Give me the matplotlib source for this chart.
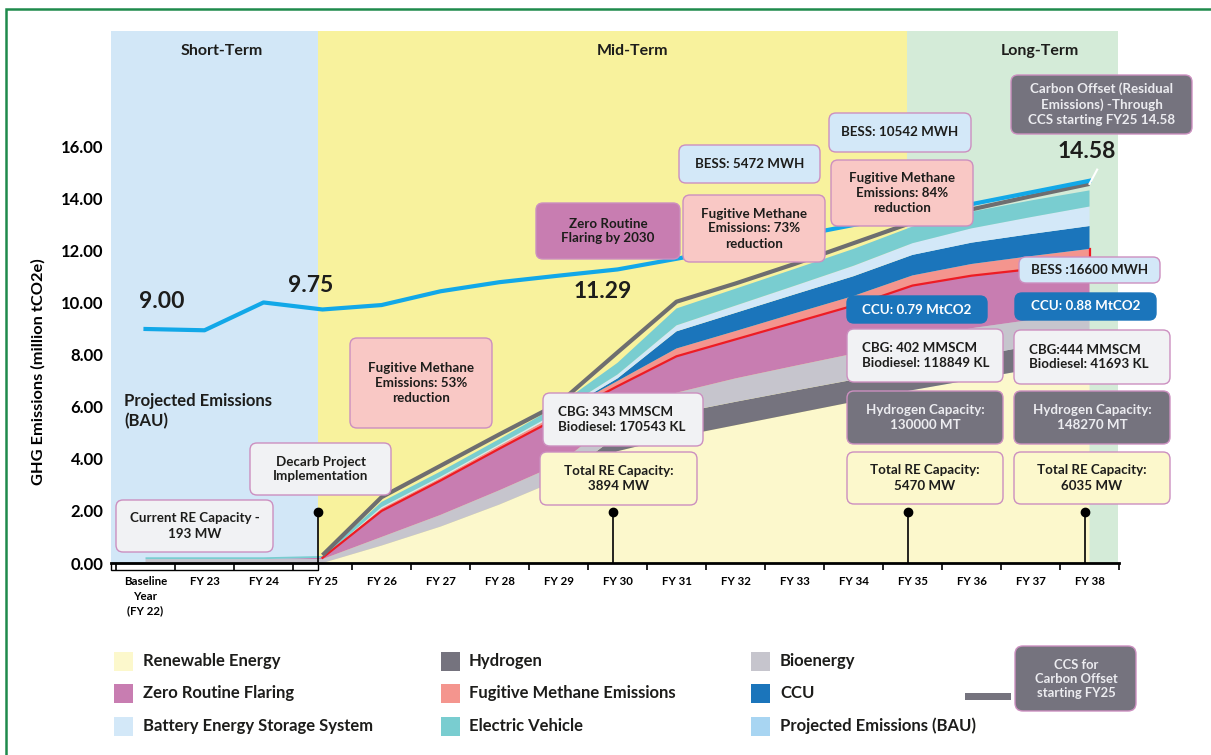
import numpy as np
import matplotlib.pyplot as plt
from matplotlib.patches import FancyBboxPatch, Rectangle

plt.rcParams["font.family"] = ["Lato", "DejaVu Sans"]
plt.rcParams["font.weight"] = "bold"

# ---------------------------------------------------------------------------
# Data (million tCO2e)
# ---------------------------------------------------------------------------
years = ["Baseline\nYear\n(FY 22)", "FY 23", "FY 24", "FY 25", "FY 26", "FY 27",
         "FY 28", "FY 29", "FY 30", "FY 31", "FY 32", "FY 33", "FY 34",
         "FY 35", "FY 36", "FY 37", "FY 38"]

bau = [9.00, 8.95, 10.02, 9.75, 9.92, 10.45, 10.80, 11.05, 11.29, 11.70,
       12.13, 12.56, 13.00, 13.40, 13.80, 14.25, 14.70]

ccs_line = [np.nan, np.nan, np.nan, 0.30, 2.53, 3.74, 4.95, 6.13, 8.10,
            10.05, 10.75, 11.50, 12.30, 13.10, 13.60, 14.10, 14.58]

renewable = [0, 0, 0, 0, 0.67, 1.40, 2.25, 3.20, 4.30, 4.85, 5.30, 5.75,
             6.20, 6.65, 7.05, 7.45, 7.75]
hydrogen = [0, 0, 0, 0, 0, 0, 0, 0, 0.60, 0.90, 0.90, 0.88, 0.85, 0.87,
            0.88, 0.90, 0.90]
bioenergy = [0.15, 0.15, 0.15, 0.15, 0.33, 0.45, 0.55, 0.60, 0.70, 0.80,
             0.90, 0.95, 1.00, 1.05, 1.10, 1.00, 0.85]
zero_flaring = [0, 0, 0, 0.05, 1.00, 1.32, 1.60, 1.80, 1.20, 1.40, 1.50,
                1.67, 1.85, 2.10, 2.02, 1.95, 2.00]
fugitive = [0, 0, 0, 0, 0.10, 0.10, 0.12, 0.15, 0.20, 0.30, 0.32, 0.35,
            0.37, 0.39, 0.45, 0.50, 0.58]
ccu = [0, 0, 0, 0, 0, 0, 0, 0, 0.10, 0.66, 0.70, 0.73, 0.76, 0.79, 0.82,
       0.85, 0.88]
bess = [0, 0, 0, 0, 0.05, 0.05, 0.05, 0.07, 0.15, 0.23, 0.28, 0.33, 0.40,
        0.45, 0.55, 0.65, 0.75]
ev = [0.07, 0.07, 0.07, 0.07, 0.20, 0.20, 0.20, 0.25, 0.45, 0.65, 0.65,
      0.65, 0.65, 0.64, 0.64, 0.64, 0.62]

milestones = [3, 8, 13, 16]

# colours
c_re = "#fcf8cc"
c_h2 = "#75737e"
c_bio = "#c6c5cd"
c_zrf = "#c87db1"
c_fm = "#f4958e"
c_ccu = "#1b75bb"
c_bess = "#d3e8f8"
c_ev = "#79cdd0"
c_bau = "#a8d5f2"
c_light = "#f1f2f4"
c_pinkbox = "#f9c8c5"
c_edge = "#cc8fc0"
c_dark = "#1d1d1b"

W, H = 1211, 755
fig = plt.figure(figsize=(W / 100, H / 100), dpi=100)
ax = fig.add_axes([111 / W, (H - 563) / H, 1008 / W, 532 / H])

x = np.arange(len(years))
x_left, x_right = -0.585, 16.5

# term bands
ax.axvspan(x_left, 2.924, color="#d2e7f7", lw=0, zorder=0)
ax.axvspan(2.924, 12.907, color="#f8f29d", lw=0, zorder=0)
ax.axvspan(12.907, 16.48, color="#d4ebd8", lw=0, zorder=0)

layers = [renewable, hydrogen, bioenergy, zero_flaring, fugitive, ccu, bess, ev]
colors = [c_re, c_h2, c_bio, c_zrf, c_fm, c_ccu, c_bess, c_ev]
ax.stackplot(x, *layers, colors=colors, linewidth=0, zorder=2)

# fugitive methane outline (top of zero routine flaring)
cum = np.cumsum(np.array(layers), axis=0)
zrf_top = cum[3]
fm_top = cum[4]
ax.plot(x[3:], zrf_top[3:], color="#ed1c24", lw=1.6, zorder=3)
ax.plot([x[-1], x[-1]], [zrf_top[-1], fm_top[-1]], color="#ed1c24", lw=1.6, zorder=3)

# CCS carbon offset line and BAU projection
ax.plot(x, ccs_line, color="#6e6e70", lw=3.0, zorder=4, solid_capstyle="butt")
ax.plot(x, bau, color="#12a8e8", lw=3.0, zorder=5)
ax.plot([x[-1], x[-1] + 0.13], [ccs_line[-1], ccs_line[-1] + 0.55],
        color="white", lw=1.5, zorder=6, clip_on=False)

# milestone lollipops
mx = np.array(milestones) - 0.08
ax.vlines(mx, 0, 1.95, color="black", lw=1.2, zorder=6)
ax.plot(mx, [1.95] * len(mx), "o", color="black", ms=6, zorder=7)

# axes styling
ax.set_xlim(x_left, x_right)
ax.set_ylim(0, 20.46)
for side in ["left", "right", "top"]:
    ax.spines[side].set_visible(False)
ax.spines["bottom"].set_linewidth(2)
ax.spines["bottom"].set_zorder(8)

ax.set_xticks(np.arange(-0.5, 17, 1))
ax.set_xticklabels([])
ax.set_xticks(x, minor=True)
ax.set_xticklabels(years, minor=True, fontsize=8.3, fontweight="bold",
                   linespacing=1.4)
ax.tick_params(axis="x", which="major", length=5, width=1.2, color="black")
ax.tick_params(axis="x", which="minor", length=0, pad=9.5)

yt = np.arange(0, 17, 2)
ax.set_yticks(yt)
ax.set_yticklabels([f"{v:.2f}" for v in yt], fontsize=12, fontweight="bold")
ax.tick_params(axis="y", length=0, pad=5.5)

ax.add_patch(Rectangle((x_left, -0.27), 2.924 - x_left, 0.27,
                       facecolor="white", edgecolor="black", lw=1,
                       clip_on=False, zorder=1))


def px(xp, yp):
    return xp / 100, (H - yp) / 100


def ftext(xp, yp, s, **kw):
    fig.text(*px(xp, yp), s, transform=fig.dpi_scale_trans, **kw)


fig.text(*px(38, 372), "GHG Emissions (million tCO2e)", rotation=90,
         ha="center", va="center", fontsize=11.8, fontweight="bold",
         transform=fig.dpi_scale_trans)

# term headings
ftext(222, 51, "Short-Term", ha="center", va="center", fontsize=11.5, color=c_dark)
ftext(633, 51, "Mid-Term", ha="center", va="center", fontsize=11.5, color=c_dark)
ftext(1040, 51, "Long-Term", ha="center", va="center", fontsize=11.5, color=c_dark)

# headline values
ftext(162, 302, "9.00", ha="center", va="center", fontsize=16.5, color=c_dark)
ftext(311, 286, "9.75", ha="center", va="center", fontsize=16.5, color=c_dark)
ftext(603, 291, "11.29", ha="center", va="center", fontsize=16.5, color=c_dark)
ftext(1087, 152, "14.58", ha="center", va="center", fontsize=16.5, color=c_dark)

ftext(124, 411, "Projected Emissions\n(BAU)", ha="left", va="center",
      fontsize=12, color=c_dark, linespacing=1.25)

# callout boxes: left, top, right, bottom (pixels), text, face, text colour, align
boxes = [
    (116, 500, 273, 552, "Current RE Capacity -\n193 MW", c_light, c_dark, "center"),
    (250, 443, 391, 495, "Decarb Project\nImplementation", c_light, c_dark, "center"),
    (350, 338, 492, 428, "Fugitive Methane\nEmissions: 53%\nreduction", c_pinkbox, c_dark, "center"),
    (536, 203, 680, 259, "Zero Routine\nFlaring by 2030", c_zrf, c_dark, "center"),
    (679, 145, 820, 183, "BESS: 5472 MWH", c_bess, c_dark, "center"),
    (683, 195, 825, 262, "Fugitive Methane\nEmissions: 73%\nreduction", c_pinkbox, c_dark, "center"),
    (829, 113, 971, 152, "BESS: 10542 MWH", c_bess, c_dark, "center"),
    (831, 160, 973, 226, "Fugitive Methane\nEmissions: 84%\nreduction", c_pinkbox, c_dark, "center"),
    (1011, 75, 1192, 134, "Carbon Offset (Residual\nEmissions) -Through\nCCS starting FY25 14.58", c_h2, "#ececf0", "center"),
    (1019, 257, 1160, 283, "BESS :16600 MWH", c_bess, c_dark, "center"),
    (847, 296, 987, 323, "CCU: 0.79 MtCO2", c_ccu, "white", "center"),
    (1015, 293, 1156, 320, "CCU: 0.88 MtCO2", c_ccu, "white", "center"),
    (847, 329, 1003, 382, "CBG: 402 MMSCM\nBiodiesel: 118849 KL", c_light, c_dark, "left"),
    (1014, 330, 1170, 384, "CBG:444 MMSCM\nBiodiesel: 41693 KL", c_light, c_dark, "left"),
    (847, 391, 1003, 444, "Hydrogen Capacity:\n130000 MT", c_h2, "#ececf0", "center"),
    (1014, 391, 1170, 444, "Hydrogen Capacity:\n148270 MT", c_h2, "#ececf0", "center"),
    (847, 452, 1003, 504, "Total RE Capacity:\n5470 MW", c_re, c_dark, "center"),
    (1014, 452, 1170, 504, "Total RE Capacity:\n6035 MW", c_re, c_dark, "center"),
    (543, 393, 703, 446, "CBG: 343 MMSCM\nBiodiesel: 170543 KL", c_light, c_dark, "left"),
    (540, 452, 697, 505, "Total RE Capacity:\n3894 MW", c_re, c_dark, "center"),
]

for x0, y0, x1, y1, label, face, tcol, align in boxes:
    edge = face if face == c_ccu else c_edge
    fig.patches.append(FancyBboxPatch(
        px(x0, y1), (x1 - x0) / 100, (y1 - y0) / 100,
        boxstyle="round,pad=0,rounding_size=0.07",
        transform=fig.dpi_scale_trans, facecolor=face, edgecolor=edge,
        lw=1.0, zorder=2))
    if align == "left":
        ftext(x0 + 15, (y0 + y1) / 2, label, ha="left", va="center",
              fontsize=9.6, color=tcol, linespacing=1.3, zorder=4)
    else:
        ftext((x0 + x1) / 2, (y0 + y1) / 2, label, ha="center", va="center",
              fontsize=9.6, color=tcol, linespacing=1.3, multialignment="center",
              zorder=4)

# legend
legend_items = [
    ("Renewable Energy", c_re), ("Zero Routine Flaring", c_zrf),
    ("Battery Energy Storage System", c_bess),
    ("Hydrogen", c_h2), ("Fugitive Methane Emissions", c_fm),
    ("Electric Vehicle", c_ev),
    ("Bioenergy", c_bio), ("CCU", c_ccu), ("Projected Emissions (BAU)", c_bau),
]
col_sq = [114, 441, 751]
col_tx = [143, 469, 780]
rows = [661, 693, 726]
for i, (name, col) in enumerate(legend_items):
    c, r = divmod(i, 3)
    fig.patches.append(Rectangle(px(col_sq[c], rows[r] + 9.5), 0.19, 0.19,
                                 transform=fig.dpi_scale_trans,
                                 facecolor=col, lw=0))
    ftext(col_tx[c], rows[r], name, ha="left", va="center", fontsize=12,
          color=c_dark)

fig.patches.append(Rectangle(px(965, 700), 0.46, 0.07,
                             transform=fig.dpi_scale_trans,
                             facecolor=c_h2, lw=0))
fig.patches.append(FancyBboxPatch(
    px(1015, 711), 1.21, 0.65, boxstyle="round,pad=0,rounding_size=0.08",
    transform=fig.dpi_scale_trans, facecolor=c_h2, edgecolor=c_edge, lw=1.0))
ftext(1076, 679, "CCS for\nCarbon Offset\nstarting FY25", ha="center",
      va="center", fontsize=9.4, color="#ececf0", linespacing=1.2)

# outer frame
fig.patches.append(Rectangle((0.06, -0.3), 12.5, (H - 9) / 100 + 0.3,
                             transform=fig.dpi_scale_trans, fill=False,
                             edgecolor="#1f8a4c", lw=1.8))

plt.savefig("out.png", dpi=100)
